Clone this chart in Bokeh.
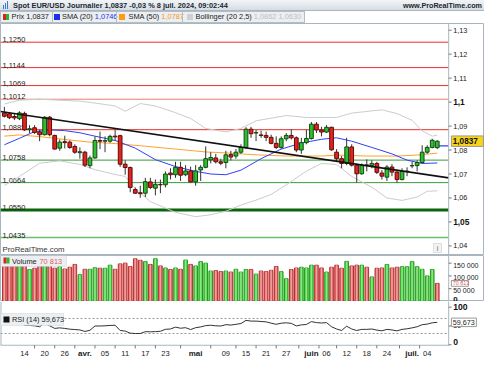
from bokeh.plotting import figure
from bokeh.models import Label, Div, Range1d, ColumnDataSource, BoxAnnotation
from bokeh.layouts import column
from bokeh.embed import file_html
from bokeh.resources import INLINE
from bokeh.core.properties import value

# ---------------- data ----------------
opens = [1.0955, 1.0951, 1.0940, 1.0931, 1.0953, 1.0885, 1.0893, 1.0876, 1.0864, 1.0937,
         1.0861, 1.0808, 1.0835, 1.0833, 1.0815, 1.0789, 1.0791, 1.0735, 1.0767, 1.0840,
         1.0837, 1.0837, 1.0858, 1.0860, 1.0741, 1.0727, 1.0635, 1.0622, 1.0620, 1.0667,
         1.0641, 1.0656, 1.0655, 1.0704, 1.0697, 1.0728, 1.0697, 1.0713, 1.0667, 1.0717,
         1.0728, 1.0759, 1.0767, 1.0751, 1.0748, 1.0781, 1.0775, 1.0791, 1.0811, 1.0887,
         1.0871, 1.0863, 1.0861, 1.0853, 1.0828, 1.0811, 1.0847, 1.0861, 1.0851, 1.0800,
         1.0831, 1.0848, 1.0908, 1.0884, 1.0875, 1.0895, 1.0791, 1.0764, 1.0744, 1.0813,
         1.0737, 1.0701, 1.0738, 1.0735, 1.0744, 1.0704, 1.0687, 1.0729, 1.0708, 1.0677,
         1.0710, 1.0734, 1.0735, 1.0748, 1.0791, 1.0811, 1.0810]
highs = [1.0980, 1.0957, 1.0950, 1.0962, 1.0960, 1.0904, 1.0904, 1.0884, 1.0941, 1.0942,
         1.0864, 1.0844, 1.0860, 1.0840, 1.0824, 1.0811, 1.0797, 1.0777, 1.0857, 1.0877,
         1.0857, 1.0864, 1.0885, 1.0864, 1.0757, 1.0731, 1.0644, 1.0651, 1.0684, 1.0684,
         1.0677, 1.0677, 1.0711, 1.0724, 1.0751, 1.0751, 1.0737, 1.0731, 1.0737, 1.0737,
         1.0815, 1.0791, 1.0784, 1.0764, 1.0797, 1.0797, 1.0804, 1.0824, 1.0895, 1.0897,
         1.0884, 1.0881, 1.0877, 1.0864, 1.0857, 1.0857, 1.0871, 1.0887, 1.0857, 1.0851,
         1.0884, 1.0917, 1.0917, 1.0897, 1.0904, 1.0897, 1.0804, 1.0775, 1.0851, 1.0824,
         1.0744, 1.0744, 1.0761, 1.0757, 1.0751, 1.0717, 1.0737, 1.0741, 1.0717, 1.0724,
         1.0728, 1.0751, 1.0757, 1.0820, 1.0820, 1.0847, 1.0841]
lows = [1.0936, 1.0929, 1.0925, 1.0925, 1.0880, 1.0871, 1.0868, 1.0837, 1.0861, 1.0857,
        1.0802, 1.0797, 1.0807, 1.0805, 1.0784, 1.0764, 1.0729, 1.0724, 1.0764, 1.0804,
        1.0791, 1.0830, 1.0838, 1.0730, 1.0697, 1.0624, 1.0617, 1.0601, 1.0604, 1.0637,
        1.0611, 1.0620, 1.0644, 1.0677, 1.0684, 1.0671, 1.0691, 1.0664, 1.0651, 1.0671,
        1.0724, 1.0744, 1.0744, 1.0737, 1.0724, 1.0757, 1.0764, 1.0784, 1.0804, 1.0851,
        1.0837, 1.0851, 1.0837, 1.0824, 1.0804, 1.0804, 1.0837, 1.0844, 1.0791, 1.0784,
        1.0824, 1.0844, 1.0871, 1.0857, 1.0871, 1.0797, 1.0751, 1.0724, 1.0737, 1.0731,
        1.0664, 1.0697, 1.0711, 1.0724, 1.0700, 1.0677, 1.0671, 1.0691, 1.0664, 1.0673,
        1.0691, 1.0724, 1.0711, 1.0744, 1.0784, 1.0807, 1.0804]
closes = [1.0941, 1.0935, 1.0934, 1.0955, 1.0884, 1.0889, 1.0873, 1.0864, 1.0937, 1.0864,
          1.0804, 1.0833, 1.0831, 1.0811, 1.0791, 1.0793, 1.0737, 1.0767, 1.0840, 1.0837,
          1.0839, 1.0857, 1.0855, 1.0741, 1.0727, 1.0644, 1.0620, 1.0618, 1.0668, 1.0644,
          1.0657, 1.0655, 1.0700, 1.0697, 1.0728, 1.0695, 1.0713, 1.0667, 1.0713, 1.0728,
          1.0764, 1.0769, 1.0751, 1.0745, 1.0780, 1.0771, 1.0791, 1.0811, 1.0887, 1.0868,
          1.0873, 1.0861, 1.0853, 1.0828, 1.0811, 1.0847, 1.0861, 1.0851, 1.0800, 1.0831,
          1.0848, 1.0908, 1.0884, 1.0875, 1.0895, 1.0801, 1.0764, 1.0744, 1.0813, 1.0737,
          1.0701, 1.0737, 1.0736, 1.0744, 1.0707, 1.0691, 1.0729, 1.0708, 1.0677, 1.0711,
          1.0712, 1.0735, 1.0748, 1.0791, 1.0811, 1.0841, 1.0837]
volumes = [150000, 150000, 148000, 152000, 160000, 125000, 130000, 142000, 152000, 146000,
           130000, 136000, 127000, 134000, 145000, 105000, 126000, 126000, 132000, 130000,
           130000, 142000, 126000, 147000, 150000, 137000, 167000, 161000, 156000, 145000,
           167000, 139000, 131000, 125000, 131000, 126000, 162000, 145000, 139000, 156000,
           150000, 119000, 121000, 117000, 119000, 115000, 126000, 115000, 125000, 125000,
           107000, 119000, 117000, 122000, 137000, 117000, 89000, 125000, 131000, 134000,
           131000, 142000, 142000, 131000, 115000, 134000, 142000, 130000, 157000, 139000,
           142000, 142000, 134000, 96000, 130000, 131000, 145000, 131000, 134000, 136000,
           136000, 156000, 136000, 126000, 100000, 125000, 70813]
rsi_vals = [65.5, 64.5, 62.5, 63.0, 52.0, 51.5, 50.5, 48.0, 57.6, 50.5,
            43.6, 45.0, 43.6, 41.5, 40.5, 39.5, 35.5, 38.5, 50.0, 50.0,
            50.5, 51.5, 52.0, 38.0, 36.5, 31.0, 30.0, 30.0, 35.0, 34.5,
            35.0, 36.0, 41.2, 42.0, 47.0, 44.0, 45.5, 40.5, 45.5, 47.5,
            51.0, 52.0, 50.5, 50.0, 53.5, 52.5, 54.5, 56.5, 65.0, 63.0,
            63.0, 62.0, 61.0, 57.5, 54.5, 57.5, 58.5, 57.0, 50.2, 53.0,
            54.0, 61.7, 59.0, 58.0, 59.0, 48.0, 42.0, 38.0, 49.5, 42.0,
            38.0, 41.0, 41.0, 42.0, 39.0, 37.2, 41.0, 39.5, 37.0, 41.0,
            42.5, 45.0, 48.0, 53.5, 55.0, 58.5, 59.673]

sma20_i = [0, 3, 6, 9, 12, 15, 18, 22, 26, 30, 34, 38, 41, 44, 47, 51, 55, 59, 63, 66, 69, 73, 77, 80, 83, 86]
sma20_v = [1.0822, 1.0849, 1.0877, 1.0884, 1.0881, 1.0872, 1.0858, 1.0840, 1.0808, 1.0760,
           1.0731, 1.0711, 1.0700, 1.0697, 1.0716, 1.0764, 1.0804, 1.0829, 1.0845, 1.0851,
           1.0837, 1.0811, 1.0784, 1.0758, 1.0744, 1.0746]
sma50_i = [0, 3, 7, 12, 17, 22, 28, 34, 40, 44, 50, 56, 63, 66, 72, 78, 82, 86]
sma50_v = [1.0858, 1.0863, 1.0856, 1.0844, 1.0833, 1.0827, 1.0816, 1.0804, 1.0792, 1.0788,
           1.0780, 1.0775, 1.0775, 1.0779, 1.0775, 1.0775, 1.0779, 1.0787]
bb_up_i = [0, 3, 7, 11, 15, 18, 22, 24, 27, 30, 34, 37, 40, 44, 47, 50, 56, 60, 66, 69, 75, 78, 81, 83, 85, 86]
bb_up_v = [1.0992, 1.1008, 1.1012, 1.1008, 1.1004, 1.0996, 1.0984, 1.0962, 1.0994, 1.0984,
           1.0956, 1.0932, 1.0890, 1.0876, 1.0890, 1.0922, 1.0944, 1.0936, 1.0936, 1.0954,
           1.0968, 1.0952, 1.0924, 1.0880, 1.0858, 1.0862]
bb_lo_i = [0, 3, 7, 11, 15, 18, 22, 24, 26, 29, 34, 38, 41, 44, 47, 50, 53, 56, 60, 63, 66, 69, 73, 76, 79, 82, 84, 86]
bb_lo_v = [1.0652, 1.0690, 1.0745, 1.0755, 1.0740, 1.0718, 1.0698, 1.0690, 1.0640, 1.0585,
           1.0540, 1.0522, 1.0530, 1.0545, 1.0570, 1.0591, 1.0615, 1.0655, 1.0712, 1.0744,
           1.0740, 1.0690, 1.0645, 1.0600, 1.0590, 1.0604, 1.0628, 1.0630]
trend_v = [1.0961, 1.0684]
ref_v = 1.0817

level_vals = [1.1250, 1.1144, 1.1069, 1.1012, 1.0885, 1.0758, 1.0664, 1.0550, 1.0435]
level_lbls = ["1,1250", "1,1144", "1,1069", "1,1012", "1,0885", "1,0758", "1,0664", "1,0550", "1,0435"]

price_ticks = [1.04, 1.05, 1.06, 1.07, 1.08, 1.09, 1.10, 1.11, 1.12, 1.13]
price_tick_lbls = ["1,04", "1,05", "1,06", "1,07", "1,08", "1,09", "1,1", "1,11", "1,12", "1,13"]
price_bold = ["1,05", "1,1"]
vol_ticks = [0, 50000, 100000, 150000]
vol_tick_lbls = ["0", "50 000", "100 000", "150 000"]
rsi_ticks = [0, 50, 100]
rsi_tick_lbls = ["0", "50", "100"]
rsi_bold = ["0", "100"]
rsi_levels = [70, 30]
xtick_idx = [4, 8, 12, 16, 20, 24, 28, 32, 38, 44, 48, 52, 56, 61, 64, 68, 72, 76, 81, 84]
xtick_lbl = ["14", "20", "26", "avr.", "05", "11", "17", "23", "mai", "09",
             "15", "21", "27", "juin", "06", "12", "18", "24", "juil.", "04"]
months = ["avr.", "mai", "juin", "juil."]

last_price = 1.0837
pct_change = "-0,03 %"
stamp = "8 juil. 2024, 09:02:44"
sma20_last = 1.0746
sma50_last = 1.0787
bb_last = (1.0862, 1.0630)
last_volume = "70 813"
last_rsi = "59,673"

# ---------------- layout / styling ----------------
FONT = "Liberation Sans"
W = 484
FRAME = "#a9b6c0"
SLOT = 5.2                      # reference px per trading day
X_LO = -4 / SLOT                # left edge of the window
X_HI = 496 / SLOT               # right edge of the window
AX = 459 / SLOT                 # right price-axis line
PXI = W / (X_HI - X_LO)         # output px per trading day
TICK = 3 / SLOT
LBLX = AX + 4.6 / SLOT
level_colors = ["#e8312b", "#e8312b", "#e8312b", "#f27a74", "#e8312b", "#3a9a3a", "#3a9a3a", "#0b650b", "#6cc06c"]
level_widths = [1, 1, 1, 1, 1, 1, 1, 3, 1.5]
RSI_AXIS = -1.3
RSI_XLBL = -22.3
RSI_XTICK = -9.6


def fmt4(v):
    return f"{v:.4f}".replace(".", ",")


xr = Range1d(X_LO, X_HI)


def make_fig(height, yr):
    p = figure(width=W, height=height, x_range=xr, y_range=yr,
               output_backend="svg", toolbar_location=None,
               x_axis_location=None, y_axis_location=None,
               min_border_left=0, min_border_right=0, min_border_top=0, min_border_bottom=0)
    p.grid.visible = False
    p.outline_line_color = FRAME
    p.background_fill_color = "white"
    p.border_fill_color = "white"
    return p


def right_axis(p, ticks, labels, bold, y_bottom, y_top, normal_size="7.3px", bold_size="8.4px",
               bottom_zero=False, label_shift=0):
    p.segment(x0=[AX], y0=[y_bottom], x1=[AX], y1=[y_top], line_color=FRAME, line_width=1)
    p.segment(x0=[AX] * len(ticks), y0=ticks, x1=[AX + TICK] * len(ticks), y1=ticks,
              line_color="#777777", line_width=1)
    nt = [t for t, l in zip(ticks, labels) if l not in bold]
    nl = [l for l in labels if l not in bold]
    p.text(x=[LBLX] * len(nt), y=nt, text=nl, text_font=value(FONT), text_font_size=value(normal_size),
           text_color="#222222", text_align="left", text_baseline="middle", y_offset=label_shift)
    for t, l in zip(ticks, labels):
        if l in bold:
            base = "bottom" if (bottom_zero and t == 0) else "middle"
            p.text(x=[LBLX], y=[t], text=[l], text_font=value(FONT), text_font_size=value(bold_size),
                   text_font_style="bold", text_color="#111111", text_align="left", text_baseline=base)


def value_box(p, y, text, w_px, h_px, fill, color, size, bold=False):
    left = AX + 2.8 / SLOT
    w = w_px / PXI
    p.rect(x=[left + w / 2], y=[y], width=[w], height=h_px, height_units="screen",
           fill_color=fill, line_color="#9a9a9a", line_width=1)
    p.text(x=[left + 1.4 / PXI], y=[y], text=[text], text_font=value(FONT), text_font_size=value(size),
           text_font_style="bold" if bold else "normal", text_color=color,
           text_align="left", text_baseline="middle")


def screen_box(p, l, r, b, t, fill, line=None):
    p.add_layout(BoxAnnotation(left=l, right=r, bottom=b, top=t, left_units="screen", right_units="screen",
                               bottom_units="screen", top_units="screen", fill_color=fill, fill_alpha=1,
                               line_color=line, line_width=1))


def screen_text(p, x, y, text, size, color, **kw):
    p.add_layout(Label(x=x, y=y, x_units="screen", y_units="screen", text=text, text_font=FONT,
                       text_font_size=size, text_color=color, **kw))


# ---------------- header ----------------
title_txt = f"Spot EUR/USD Journalier {fmt4(last_price)} {pct_change} {stamp}"
hdr = f"""<div style="position:relative;width:{W}px;height:23px;overflow:hidden;font-family:'Liberation Sans',Arial,sans-serif;background:#fff;">
<div style="position:absolute;left:0;top:0;width:{W}px;height:11px;background:linear-gradient(#f2f5f7,#d6dde3);border-bottom:1px solid #a9b6c0;box-sizing:border-box;"></div>
<div style="position:absolute;left:3px;top:5px;width:1px;height:4px;background:#3b78d8;"></div>
<div style="position:absolute;left:5px;top:3px;width:1px;height:6px;background:#3b78d8;"></div>
<div style="position:absolute;left:7px;top:1px;width:1px;height:8px;background:#3b78d8;"></div>
<div style="position:absolute;left:13px;top:0;height:11px;line-height:11px;font-size:7.4px;font-weight:bold;color:#1d2630;white-space:nowrap;">{title_txt}</div>
<div style="position:absolute;right:2px;top:0;height:11px;line-height:11px;font-size:7.2px;font-weight:bold;color:#1d2630;white-space:nowrap;">www.ProRealTime.com</div>
<div style="position:absolute;left:0;top:11px;width:305px;height:12px;background:#eceff2;border:1px solid #b3bec7;box-sizing:border-box;"></div>
<div style="position:absolute;left:3px;top:14px;width:3px;height:6px;background:#d9231d;"></div>
<div style="position:absolute;left:6px;top:14px;width:3px;height:6px;background:#2fb52f;"></div>
<div style="position:absolute;left:11.5px;top:11px;line-height:12px;font-size:7.4px;color:#222;white-space:nowrap;">Prix {fmt4(last_price)}</div>
<div style="position:absolute;left:52px;top:11px;width:1px;height:12px;background:#b3bec7;"></div>
<div style="position:absolute;left:54px;top:14px;width:6px;height:6px;background:#1f2fe6;"></div>
<div style="position:absolute;left:62px;top:11px;line-height:12px;font-size:7.4px;color:#222;white-space:nowrap;">SMA (20) <span style="color:#2433e0;">{fmt4(sma20_last)}</span></div>
<div style="position:absolute;left:116px;top:11px;width:1px;height:12px;background:#b3bec7;"></div>
<div style="position:absolute;left:119px;top:14px;width:6px;height:6px;background:#ff9a1a;"></div>
<div style="position:absolute;left:128.5px;top:11px;line-height:12px;font-size:7.4px;color:#222;white-space:nowrap;">SMA (50) <span style="color:#f7941d;">{fmt4(sma50_last)}</span></div>
<div style="position:absolute;left:182px;top:11px;width:1px;height:12px;background:#b3bec7;"></div>
<div style="position:absolute;left:187px;top:14px;width:6px;height:6px;background:#d0d0d0;"></div>
<div style="position:absolute;left:195.5px;top:11px;line-height:12px;font-size:7.4px;color:#222;white-space:nowrap;">Bollinger (20 2,5) <span style="color:#bdbdbd;">{fmt4(bb_last[0])} {fmt4(bb_last[1])}</span></div>
</div>"""
header = Div(text=hdr, width=W, height=23, margin=0)

# ---------------- price pane ----------------
P_LO, P_HI = 1.036, 1.1328
price = make_fig(232, Range1d(P_LO, P_HI))

nl = len(level_vals)
price.segment(x0=[X_LO] * nl, y0=level_vals, x1=[AX] * nl, y1=level_vals,
              line_color=level_colors, line_width=level_widths)
price.text(x=[X_LO + 2 / SLOT] * nl, y=level_vals, text=level_lbls, text_font=value(FONT),
           text_font_size=value("7.5px"), text_color="#222222", text_align="left", text_baseline="bottom")

price.line(bb_up_i, bb_up_v, line_color="#cccccc", line_width=1)
price.line(bb_lo_i, bb_lo_v, line_color="#cccccc", line_width=1)
price.line(sma50_i, sma50_v, line_color="#ffa22e", line_width=1)
price.line(sma20_i, sma20_v, line_color="#3140f5", line_width=1)

n = len(closes)
xs = list(range(n))
price.line([xs[-1], AX], [ref_v, ref_v], line_color="#3140f5", line_width=1.2)

up = [c >= o for o, c in zip(opens, closes)]
csrc = ColumnDataSource(dict(
    x=xs, high=highs, low=lows,
    top=[max(o, c) for o, c in zip(opens, closes)],
    bot=[min(o, c) for o, c in zip(opens, closes)],
    fill=["#2fbe2f" if u else "#e3241e" for u in up],
    line=["#124a12" if u else "#5e0c0a" for u in up],
))
price.segment(x0="x", y0="low", x1="x", y1="high", source=csrc, line_color="#333333", line_width=1)
price.vbar(x="x", width=0.74, top="top", bottom="bot", fill_color="fill", line_color="line",
           line_width=1, source=csrc)
price.line([X_LO, AX], trend_v, line_color="#111111", line_width=1.6)

right_axis(price, price_ticks, price_tick_lbls, price_bold, P_LO, P_HI)
value_box(price, last_price, fmt4(last_price), 32, 10.5, "#f9d419", "#111111", "8.2px", bold=True)

screen_text(price, 2, 2, "ProRealTime.com", "7.8px", "#333333", text_baseline="bottom")
screen_box(price, 433, 441, 3, 12, "#f3f3f3", "#9a9a9a")
screen_text(price, 437, 7.5, "i", "7px", "#666666", text_align="center", text_baseline="middle")

# ---------------- volume pane ----------------
V_LO, V_HI = 0, 180000
vol = make_fig(46, Range1d(V_LO, V_HI))
vol_up = [False] + [closes[i] >= closes[i - 1] for i in range(1, n)]
vsrc = ColumnDataSource(dict(
    x=xs, v=volumes,
    fill=["#54cf4a" if u else "#e06a6a" for u in vol_up],
    line=["#1f9a1f" if u else "#b82e2e" for u in vol_up],
    inner=["#8fe886" if u else "#f0a3a3" for u in vol_up],
))
vol.vbar(x="x", width=0.72, top="v", bottom=0, fill_color="fill", line_color="line", line_width=1, source=vsrc)
vol.vbar(x="x", width=0.28, top="v", bottom=0, fill_color="inner", line_color=None, source=vsrc)
value_box(vol, volumes[-1], last_volume, 17, 5.8, "white", "#e05a5a", "5.4px")
right_axis(vol, vol_ticks, vol_tick_lbls, ["0"], V_LO, V_HI, normal_size="7px", bold_size="8px",
           bottom_zero=True, label_shift=2)
screen_box(vol, 0, 66, 35, 46, "#eceff2", "#b3bec7")
screen_box(vol, 3, 6, 38, 44, "#d9231d")
screen_box(vol, 6, 9, 38, 44, "#2fb52f")
screen_text(vol, 11.5, 40.5, "Volume", "7.4px", "#222222", text_baseline="middle")
screen_text(vol, 39, 40.5, last_volume, "7.4px", "#e05a5a", text_baseline="middle")

# ---------------- RSI pane (with date strip) ----------------
R_LO, R_HI = -39.2, 115.2
rsi = make_fig(58, Range1d(R_LO, R_HI))
rsi.outline_line_color = None
rsi.segment(x0=[X_LO], y0=[RSI_AXIS], x1=[X_LO], y1=[R_HI], line_color=FRAME, line_width=2)
for lv in rsi_levels:
    rsi.segment(x0=[X_LO], y0=[lv], x1=[AX], y1=[lv], line_color="#9a9a9a", line_width=1, line_dash="2 2")
rsi.line(xs, rsi_vals, line_color="#333333", line_width=1)
right_axis(rsi, rsi_ticks, rsi_tick_lbls, rsi_bold, RSI_AXIS - 1.5, R_HI, bold_size="8.6px", bottom_zero=True)
value_box(rsi, rsi_vals[-1], last_rsi, 25, 8.5, "white", "#222222", "7.2px")
screen_box(rsi, 0, 63, 34, 46, "#eceff2", "#b3bec7")
screen_box(rsi, 3, 9, 37, 43, "#111111")
screen_text(rsi, 11.5, 40, f"RSI (14) {last_rsi}", "7.4px", "#222222", text_baseline="middle")

# date axis
rsi.segment(x0=[X_LO], y0=[RSI_AXIS], x1=[AX], y1=[RSI_AXIS], line_color=FRAME, line_width=1)
mids = [(a + b) / 2 for a, b in zip(xtick_idx[:-1], xtick_idx[1:])]
rsi.segment(x0=mids, y0=[RSI_AXIS] * len(mids), x1=mids, y1=[RSI_XTICK] * len(mids),
            line_color="#777777", line_width=1)
xsrc = ColumnDataSource(dict(
    x=xtick_idx, y=[RSI_XLBL] * len(xtick_idx), t=xtick_lbl,
    style=["bold" if l in months else "normal" for l in xtick_lbl],
    size=["8px" if l in months else "7.5px" for l in xtick_lbl],
))
rsi.text(x="x", y="y", text="t", source=xsrc, text_font=value(FONT), text_font_size="size",
         text_font_style="style", text_color="#222222", text_align="center", text_baseline="middle")

layout = column(header, price, vol, rsi, spacing=0)
open("out.html", "w").write(file_html(layout, INLINE, title="EUR/USD"))
